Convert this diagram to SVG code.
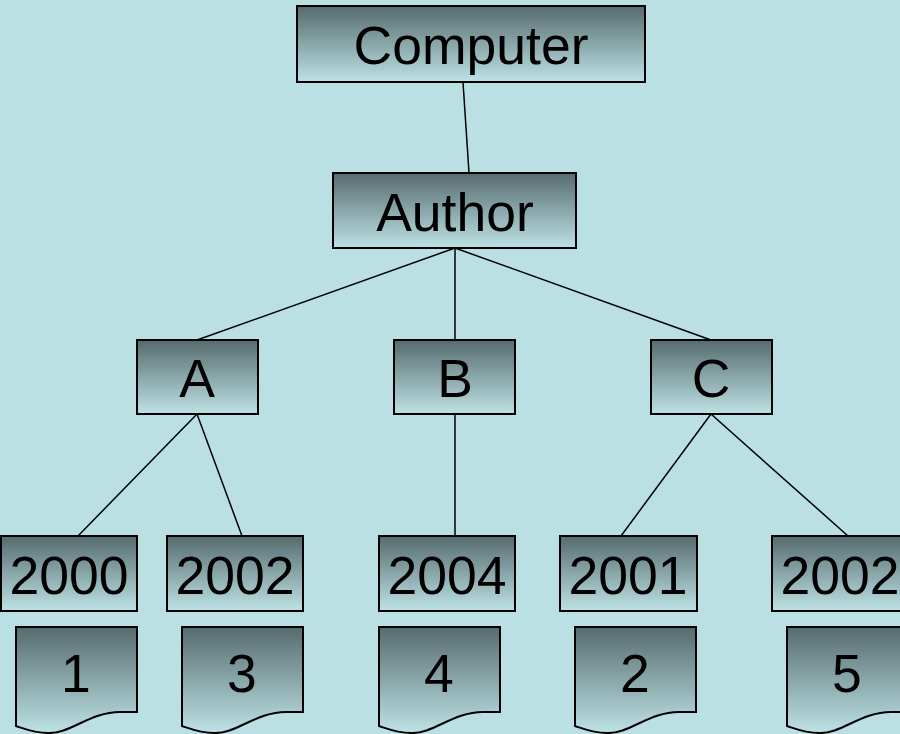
<svg xmlns="http://www.w3.org/2000/svg" width="900" height="734" viewBox="0 0 900 734">
  <defs>
    <linearGradient id="shade" x1="0" y1="0" x2="0" y2="1">
      <stop offset="0" stop-color="#566b6e"/>
      <stop offset="1" stop-color="#bde2e5"/>
    </linearGradient>
    <style>
      .box { fill: url(#shade); stroke: #000; stroke-width: 2; }
      .edge { stroke: #000; stroke-width: 1.5; fill: none; }
      .lbl { font-family: "Liberation Sans", Arial, sans-serif; font-size: 53.5px; fill: #000; text-anchor: middle; }
    </style>
  </defs>
  <rect width="900" height="734" fill="#bbe0e3"/>

  <g id="connectors">
    <line class="edge" x1="463" y1="82" x2="469" y2="173"/>
    <line class="edge" x1="455" y1="248" x2="197" y2="340"/>
    <line class="edge" x1="455" y1="248" x2="455" y2="340"/>
    <line class="edge" x1="455" y1="248" x2="711" y2="340"/>
    <line class="edge" x1="197" y1="414" x2="78" y2="536"/>
    <line class="edge" x1="197" y1="414" x2="242" y2="536"/>
    <line class="edge" x1="455" y1="414" x2="455" y2="536"/>
    <line class="edge" x1="711" y1="414" x2="621" y2="536"/>
    <line class="edge" x1="711" y1="414" x2="848" y2="536"/>
  </g>

  <g id="computer">
    <rect class="box" x="297" y="6" width="348" height="76"/>
    <text class="lbl" x="471" y="64">Computer</text>
  </g>
  <g id="author">
    <rect class="box" x="333" y="173" width="243" height="75"/>
    <text class="lbl" x="455" y="231">Author</text>
  </g>
  <g id="a">
    <rect class="box" x="137" y="340" width="121" height="74"/>
    <text class="lbl" x="197" y="397">A</text>
  </g>
  <g id="b">
    <rect class="box" x="394" y="340" width="121" height="74"/>
    <text class="lbl" x="455" y="397">B</text>
  </g>
  <g id="c">
    <rect class="box" x="651" y="340" width="121" height="74"/>
    <text class="lbl" x="711" y="397">C</text>
  </g>

  <g id="y2000">
    <rect class="box" x="1" y="536" width="136" height="75"/>
    <text class="lbl" x="69" y="594">2000</text>
  </g>
  <g id="y2002a">
    <rect class="box" x="167" y="536" width="136" height="75"/>
    <text class="lbl" x="235" y="594">2002</text>
  </g>
  <g id="y2004">
    <rect class="box" x="379" y="536" width="136" height="75"/>
    <text class="lbl" x="447" y="594">2004</text>
  </g>
  <g id="y2001">
    <rect class="box" x="560" y="536" width="137" height="75"/>
    <text class="lbl" x="628" y="594">2001</text>
  </g>
  <g id="y2002b">
    <rect class="box" x="772" y="536" width="136" height="75"/>
    <text class="lbl" x="840" y="594">2002</text>
  </g>

  <!-- document shapes: flat top, wavy bottom edge -->
  <g id="doc1">
    <path class="box" d="M16,627 H137 V712 H120 C90,712 70,734 48,733 C35,733 25,729 16,726 Z"/>
    <text class="lbl" x="76" y="692">1</text>
  </g>
  <g id="doc3">
    <path class="box" d="M182,627 H303 V712 H286 C256,712 236,734 214,733 C201,733 191,729 182,726 Z"/>
    <text class="lbl" x="242" y="692">3</text>
  </g>
  <g id="doc4">
    <path class="box" d="M379,627 H500 V712 H483 C453,712 433,734 411,733 C398,733 388,729 379,726 Z"/>
    <text class="lbl" x="439" y="692">4</text>
  </g>
  <g id="doc2">
    <path class="box" d="M575,627 H696 V712 H679 C649,712 629,734 607,733 C594,733 584,729 575,726 Z"/>
    <text class="lbl" x="635" y="692">2</text>
  </g>
  <g id="doc5">
    <path class="box" d="M787,627 H908 V712 H891 C861,712 841,734 819,733 C806,733 796,729 787,726 Z"/>
    <text class="lbl" x="847" y="692">5</text>
  </g>
</svg>
